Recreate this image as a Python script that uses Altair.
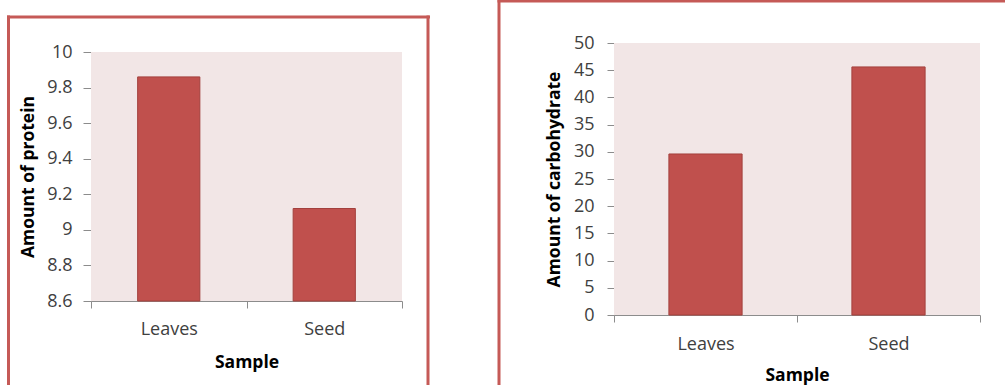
import altair as alt
import pandas as pd

# Measured composition of the two plant samples
samples = ["Leaves", "Seed"]
protein = [9.86, 9.12]
carbohydrate = [29.6, 45.6]

# Axis tick values for each panel
protein_ticks = [8.6, 8.8, 9.0, 9.2, 9.4, 9.6, 9.8, 10.0]
carb_ticks = [0, 5, 10, 15, 20, 25, 30, 35, 40, 45, 50]

BAR = "#C0504D"
BAR_EDGE = "#A3403D"
PLOT_BG = "#F2E6E6"
FRAME = "#C55A57"
AXIS = "#8C8C8C"
LABEL = "#404040"
FONT = "Open Sans"

one_row = pd.DataFrame({"k": [0]})


def strip(x, x2, y, y2, color):
    """A solid rectangle placed in plot-area pixels (frame strips, plot background)."""
    return alt.Chart(one_row).mark_rect(color=color).encode(
        x=alt.value(x), x2=alt.value(x2), y=alt.value(y), y2=alt.value(y2)
    )


def panel(values, ticks, y_title, width, height, y_range, y_tick, y_lab_pad,
          y_title_x, x_lab_pad, x_title_y, frame):
    df = pd.DataFrame({"Sample": samples, "Value": values})
    lo, hi = ticks[0], ticks[-1]
    y_scale = alt.Scale(domain=[lo, hi], range=y_range, nice=False, zero=False)
    mid = (y_range[0] + y_range[1]) / 2

    plot_bg = strip(0, width, y_range[1], y_range[0], PLOT_BG)

    bars = alt.Chart(df).mark_bar(
        color=BAR, stroke=BAR_EDGE, strokeWidth=1, width=alt.RelativeBandSize(0.4)
    ).encode(
        x=alt.X(
            "Sample:N",
            sort=samples,
            scale=alt.Scale(paddingInner=0, paddingOuter=0),
            axis=alt.Axis(
                title="Sample",
                tickBand="extent",
                labelAngle=0,
                tickSize=7,
                labelPadding=x_lab_pad,
                titleY=x_title_y,
                titleBaseline="alphabetic",
            ),
        ),
        y=alt.Y(
            "Value:Q",
            scale=y_scale,
            axis=alt.Axis(
                title=y_title,
                values=ticks,
                format="~g",
                tickSize=y_tick,
                labelPadding=y_lab_pad,
                labelOverlap=False,
                titleAngle=270,
                titleX=y_title_x,
                titleY=mid,
                titleAlign="center",
                titleBaseline="middle",
            ),
        ),
        y2=alt.datum(lo),
    )

    pieces = [strip(*f, FRAME) for f in frame]
    return alt.layer(plot_bg, bars, *pieces).properties(width=width, height=height)


left = panel(
    protein, protein_ticks, "Amount of protein",
    width=311, height=258, y_range=[258, 9], y_tick=8, y_lab_pad=11,
    y_title_x=-63, x_lab_pad=12, x_title_y=66,
    frame=[(-84, -81, -27.5, 342), (-84, 339, -27.5, -24.5), (335.5, 338.5, -27.5, 342)],
)

right = panel(
    carbohydrate, carb_ticks, "Amount of carbohydrate",
    width=366, height=272, y_range=[272, 0], y_tick=7, y_lab_pad=13,
    y_title_x=-60, x_lab_pad=13, x_title_y=65,
    frame=[(-116.5, -113.5, -43, 342), (-116.5, 391, -43, -40.5)],
)

chart = (
    alt.hconcat(left, right, spacing=212, bounds="flush")
    .properties(padding={"left": 7, "top": 0, "right": 0, "bottom": 0}, background="white")
    .configure_view(strokeWidth=0)
    .configure_axis(
        grid=False,
        domainColor=AXIS,
        tickColor=AXIS,
        labelFont=FONT,
        labelFontSize=18,
        labelColor=LABEL,
        titleFont=FONT,
        titleFontSize=17.5,
        titleFontWeight="bold",
        titleColor="#000000",
    )
)

chart.save("out.html", embed_options={"renderer": "svg", "actions": False})
